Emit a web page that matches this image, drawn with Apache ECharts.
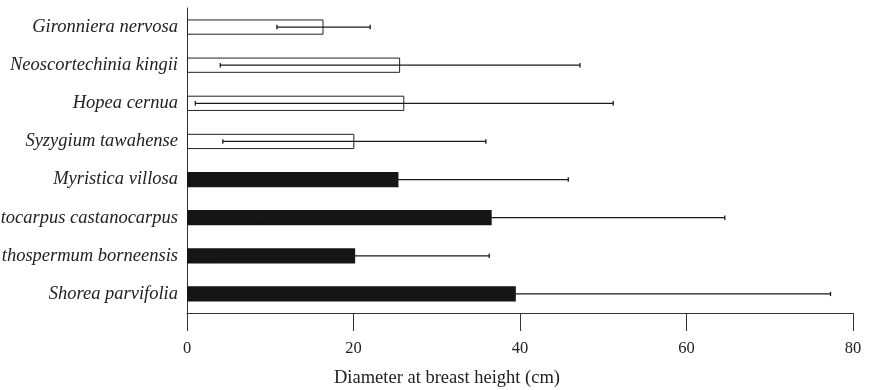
<!DOCTYPE html>
<html>
<head>
<meta charset="utf-8">
<script src="https://cdn.jsdelivr.net/npm/echarts@6/dist/echarts.min.js"></script>
<style>html,body{margin:0;padding:0;background:#fff}#c{width:870px;height:390px}</style>
</head>
<body>
<div id="c"></div>
<script>
const categories = ['Gironniera nervosa','Neoscortechinia kingii','Hopea cernua','Syzygium tawahense','Myristica villosa','tocarpus castanocarpus','thospermum borneensis','Shorea parvifolia'];
const means = [16.4, 25.6, 26.1, 20.1, 25.4, 36.6, 20.2, 39.5];
const sds = [5.6, 21.6, 25.1, 15.8, 20.4, 28.0, 16.1, 37.8];
const fillType = ['open','open','open','open','filled','filled','filled','filled'];
const xTicks = [0, 20, 40, 60, 80];

const chart = echarts.init(document.getElementById('c'), null, {renderer:'canvas'});
const serif = '"Liberation Serif","DejaVu Serif",serif';

const barData = means.map((m, i) => ({
  value: m,
  itemStyle: fillType[i] === 'open'
    ? {color:'#ffffff', borderColor:'#222', borderWidth:1}
    : {color:'#151515', borderColor:'#151515', borderWidth:0}
}));
const errData = means.map((m, i) => [m - sds[i], m + sds[i], i]);

chart.setOption({
  animation: false,
  grid: {left:187, right:17, top:8, bottom:77, containLabel:false, outerBoundsMode:'none'},
  xAxis: {
    type:'value', min:xTicks[0], max:xTicks[xTicks.length-1], interval:20,
    axisLine:{show:true, lineStyle:{color:'#333', width:1}},
    axisTick:{show:true, length:18, lineStyle:{color:'#333', width:1}},
    splitLine:{show:false},
    axisLabel:{margin:27, color:'#222', fontFamily:serif, fontSize:16.5},
    name:'Diameter at breast height (cm)', nameLocation:'middle', nameGap:56,
    nameTextStyle:{color:'#222', fontFamily:serif, fontSize:18.5, padding:[0,146,0,0]}
  },
  yAxis: {
    type:'category', data:categories, inverse:true,
    axisLine:{show:true, lineStyle:{color:'#333', width:1}},
    axisTick:{show:false},
    axisLabel:{margin:9, color:'#222', fontFamily:serif, fontStyle:'italic', fontSize:18.5, padding:[7,0,0,0]}
  },
  series: [
    {type:'bar', data:barData, barCategoryGap:'60%'},
    {type:'custom', data:errData, encode:{x:[0,1], y:2}, z:5,
     renderItem:function(params, api){
       const lo = api.coord([api.value(0), api.value(2)]);
       const hi = api.coord([api.value(1), api.value(2)]);
       const y = lo[1], cap = 2.2;
       const st = {stroke:'#1a1a1a', lineWidth:1.3};
       return {type:'group', children:[
         {type:'line', shape:{x1:lo[0], y1:y, x2:hi[0], y2:y}, style:st},
         {type:'line', shape:{x1:lo[0], y1:y-cap, x2:lo[0], y2:y+cap}, style:st},
         {type:'line', shape:{x1:hi[0], y1:y-cap, x2:hi[0], y2:y+cap}, style:st}
       ]};
     }}
  ]
});
</script>
</body>
</html>
